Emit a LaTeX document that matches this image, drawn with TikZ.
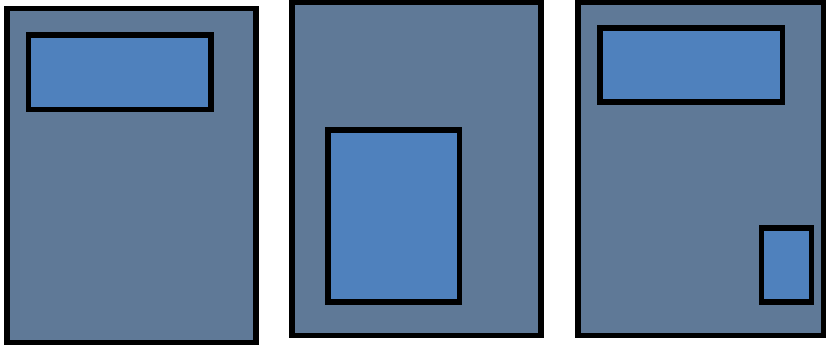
\documentclass[tikz,border=0pt]{standalone}
\usepackage{xcolor}
\usepackage{tikz}

\definecolor{pagegray}{RGB}{95,121,151}
\definecolor{boxblue}{RGB}{79,129,189}

\begin{document}
\begin{tikzpicture}[x=0.75pt,y=-0.75pt,
  page/.style={draw=black,line width=4.1pt,fill=pagegray},
  blk/.style={draw=black,line width=3.8pt,fill=boxblue}]
  \useasboundingbox (0,0) rectangle (826,345);
  % left page
  \draw[page] (7,8.5) rectangle (256,342.5);
  \draw[blk] (28.5,35) rectangle (211,109.5);
  % middle page
  \draw[page] (292,2.5) rectangle (541,335.5);
  \draw[blk] (328,130) rectangle (459.5,302);
  % right page
  \draw[page] (578,2.5) rectangle (823.5,335.5);
  \draw[blk] (600,28) rectangle (782.5,102);
  \draw[blk] (761.5,228) rectangle (811.5,302);
\end{tikzpicture}
\end{document}
